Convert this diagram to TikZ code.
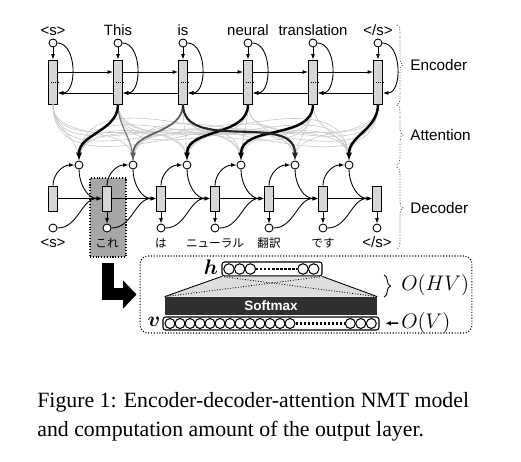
\documentclass[tikz,border=0pt]{standalone}
\usepackage{amsmath}
\usepackage{fontspec}
\setmainfont{Liberation Serif}
\setsansfont{Liberation Sans}
\newfontfamily\jpfont{Noto Sans CJK JP}
\usetikzlibrary{arrows.meta,positioning,calc,decorations.pathreplacing}
\definecolor{cellgray}{RGB}{214,214,214}
\definecolor{attgray}{RGB}{200,200,200}
\definecolor{midgray}{RGB}{95,95,95}
\definecolor{hlgray}{RGB}{166,166,166}
\definecolor{bardark}{RGB}{48,48,48}
\definecolor{fangray}{RGB}{222,222,222}
\tikzset{
  word/.style={font=\sffamily\fontsize{8.5}{10}\selectfont, anchor=base, inner sep=0pt},
  jword/.style={font=\jpfont\fontsize{6.6}{8}\selectfont, anchor=base, inner sep=0pt},
  partlabel/.style={font=\sffamily\fontsize{8.7}{10}\selectfont, anchor=west, inner sep=0pt},
  unit/.style={circle, draw, fill=white, line width=0.5pt, minimum size=0.16cm, inner sep=0pt},
  encell/.style={rectangle, draw, fill=cellgray, line width=0.5pt, minimum width=0.18cm,
                 minimum height=0.88cm, inner sep=0pt},
  decell/.style={encell, minimum height=0.5cm},
  arr/.style={-{Latex[length=1.1mm,width=0.8mm]}, line width=0.5pt},
  attn/.style={draw=attgray, line width=0.35pt},
  focus/.style={-{Latex[length=1.6mm,width=1.3mm]}, line width=1.4pt},
  partbrace/.style={decorate, decoration={brace, amplitude=0.12cm}, densely dotted, line width=0.5pt, draw=black!70},
  hlbox/.style={rectangle, draw, densely dotted, fill=hlgray, line width=0.6pt,
                minimum width=0.72cm, minimum height=1.58cm, inner sep=0pt},
  outbox/.style={rectangle, rounded corners=0.16cm, draw, densely dotted, line width=0.6pt,
                 minimum width=6.64cm, minimum height=1.54cm, inner sep=0pt},
  vecbox/.style={rectangle, rounded corners=0.05cm, draw, line width=0.6pt, inner sep=0pt},
  vunit/.style={circle, draw, line width=0.6pt, inner sep=0pt},
  softbar/.style={rectangle, fill=bardark, text=white, font=\sffamily\bfseries\fontsize{7.7}{9}\selectfont,
                  minimum width=4.24cm, minimum height=0.36cm, inner sep=0pt},
  bigarrow/.style={-{Triangle[length=0.27cm,width=0.55cm]}, line width=0.24cm, shorten >=0.06cm},
  cost/.style={font=\fontsize{12}{14}\selectfont, anchor=west, inner sep=0pt},
}
\begin{document}
\begin{tikzpicture}[x=0.02cm, y=0.02cm]
  \useasboundingbox (0,0) rectangle (521,-462);

  % highlighted decoder step
  \node[hlbox] (hl) at (108,-217.5) {};

  % encoder
  \foreach \w [count=\i from 0] in {{<s>},This,is,neural,translation,{</s>}} {
    \node[word] (ew\i) at ({53+65*\i},-36) {\w};
    \node[unit] (ei\i) at ({53+65*\i},-43) {};
    \node[encell] (e\i) at ({53+65*\i},-82) {};
    \draw[densely dotted, line width=0.4pt] (e\i.west) -- (e\i.east);
    \draw[arr] (ei\i) -- (e\i);
    \draw[arr] (ei\i.east) to[out=0,in=0] ($(e\i.east)+(0,-11)$);
  }
  \foreach \i [evaluate=\i as \j using int(\i+1)] in {0,...,4} {
    \draw[arr] ($(e\i.east)+(0,10)$) -- ($(e\j.west)+(0,10)$);
    \draw[arr] ($(e\j.west)+(0,-11)$) -- ($(e\i.east)+(0,-11)$);
  }

  % decoder
  \foreach \k in {0,...,6} {
    \node[decell] (d\k) at ({53+54*\k},-198.5) {};
    \node[unit] (do\k) at ({53+54*\k},-228) {};
  }
  \foreach \k in {0,...,5}
    \node[unit] (da\k) at ({79+54*\k},-165) {};
  \foreach \k in {1,...,6}
    \draw[arr] (d\k) -- (do\k);
  \foreach \k [evaluate=\k as \j using int(\k+1)] in {0,...,5} {
    \draw[arr] (d\k) -- (d\j);
    \draw[arr] (d\k.north) to[out=90,in=180] (da\k.west);
    \draw[arr] (da\k.south) to[out=-90,in=180] (d\j.west);
    \draw[arr] (do\k.east) to[out=0,in=180] (d\j.west);
  }
  \node[word] (dw0) at (53,-248) {<s>};
  \node[jword] (dw1) at (107,-248) {これ};
  \node[jword] (dw2) at (161,-248) {は};
  \node[jword] (dw3) at (215,-248) {ニューラル};
  \node[jword] (dw4) at (269,-248) {翻訳};
  \node[jword] (dw5) at (323,-248) {です};
  \node[word] (dw6) at (377,-248) {</s>};

  % attention
  \foreach \i in {0,...,5}
    \foreach \k in {0,...,5}
      \draw[attn] (e\i.south) to[out=-90,in=90] (da\k.north);
  \draw[attn, draw=gray, line width=0.7pt] (e1.south) to[out=-90,in=90] (da1.north);
  \draw[focus] (e1.south) to[out=-90,in=90] (da0.north);
  \draw[focus, draw=midgray, line width=1pt] (e2.south) to[out=-90,in=90] (da1.north);
  \draw[focus] (e3.south) to[out=-90,in=90] (da2.north);
  \draw[focus] (e4.south) to[out=-90,in=90] (da3.north);
  \draw[focus, draw=black!85, line width=1.2pt] (e2.south) to[out=-90,in=90] (da4.north);
  \draw[focus] (e5.south) to[out=-90,in=90] (da5.north);

  % parts
  \node[partlabel] (encl) at (410,-65) {Encoder};
  \node[partlabel] (attl) at (410,-135) {Attention};
  \node[partlabel] (decl) at (410,-208) {Decoder};
  \draw[partbrace] (397,-25) -- (397,-105);
  \draw[partbrace] (397,-105) -- (397,-165);
  \draw[partbrace] (397,-167) -- (397,-249);

  % output layer
  \node[outbox] (ob) at (306,-294.5) {};
  \draw[bigarrow] ($(hl.south)+(0,-5)$) |- (ob.west);

  \node[vecbox, minimum width=2cm, minimum height=0.28cm] (hv) at (272,-269) {};
  \foreach \c [count=\n] in {229,239.7,250.3,303,313.7}
    \node[vunit, minimum size=0.21cm] (hc\n) at (\c,-269) {};
  \draw[densely dotted, line width=1.3pt] (hc3.east) -- (hc4.west);
  \node[inner sep=0pt, font=\fontsize{12}{14}\selectfont] (hlab) at (211,-267) {$\boldsymbol{h}$};

  \node[softbar] (sm) at (271,-306) {Softmax};
  \fill[fangray] (hv.south west) -- (hv.south east) -- (sm.north east) -- (sm.north west) -- cycle;
  \draw[line width=0.5pt] (hv.south west) -- (sm.north west);
  \draw[line width=0.5pt] (hv.south east) -- (sm.north east);
  \draw[densely dotted, line width=0.5pt] (hv.south west) -- (sm.north east);
  \draw[densely dotted, line width=0.5pt] (hv.south east) -- (sm.north west);

  \node[vecbox, minimum width=4.32cm, minimum height=0.26cm] (vv) at (271,-323.5) {};
  \foreach \c [count=\n] in {170,180,...,290,350.3,360.8,371.3}
    \node[vunit, minimum size=0.2cm] (vc\n) at (\c,-323.5) {};
  \draw[densely dotted, line width=1.3pt] (vc13.east) -- (vc14.west);
  \node[inner sep=0pt, font=\fontsize{12}{14}\selectfont] (vlab) at (154,-322) {$\boldsymbol{v}$};

  \node[cost] (ohv) at (401,-285) {$O(HV)$};
  \draw[decorate, decoration={brace, amplitude=0.13cm}, line width=0.5pt] (384,-275) -- (384,-297);
  \node[cost] (ov) at (401,-323) {$O(V)$};
  \draw[-{Latex[length=1.1mm,width=1mm]}, line width=0.8pt, shorten <=0.06cm, shorten >=0.12cm] (ov.west) -- (vv.east);

  % caption
  \node[anchor=west, align=left, inner sep=0pt, font=\fontsize{12.4}{16.2}\selectfont] (cap) at (37,-417) {Figure 1: Encoder-decoder-attention NMT model\\and computation amount of the output layer.};
\end{tikzpicture}
\end{document}
